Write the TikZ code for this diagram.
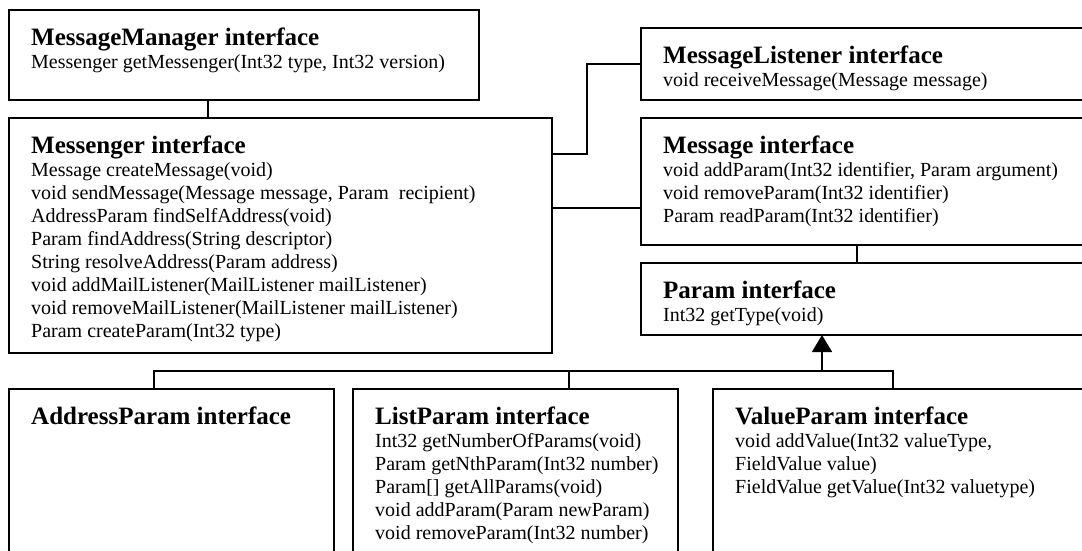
\documentclass[tikz,border=0pt]{standalone}
\usepackage{fontspec}
\setmainfont{Liberation Serif}
\usetikzlibrary{calc,arrows.meta}

\tikzset{
  ibox/.style={draw, line width=1.6pt, anchor=north west, inner sep=0pt, outer sep=0pt},
  ititle/.style={anchor=base west, inner sep=0pt, font=\fontsize{25}{28}\selectfont\bfseries},
  iline/.style={anchor=base west, inner sep=0pt, font=\fontsize{20}{23}\selectfont},
  link/.style={line width=1.6pt},
}

% box with its heading: name, x1, y1, x2, y2, heading
\newcommand\ifacebox[6]{%
  \node[ibox, minimum width={(#4-#2)*1pt}, minimum height={(#5-#3)*1pt}] (#1) at (#2,#3) {};
  \node[ititle] (#1-title) at ($(#1.north west)+(22,35)$) {#6};
}
% operation lines under the heading of a box
\newcommand\ifacelines[2]{%
  \foreach \ln [count=\k] in {#2} {
    \node[iline] (#1-l\k) at ($(#1.north west)+(22,{35+23*\k})$) {\ln};
  }
}

\begin{document}
\begin{tikzpicture}[x=1pt, y=-1pt]
  \useasboundingbox (0,0) rectangle (1082,550);
  \fill[white] (0,0) rectangle (1082,550);
  \clip (0,0) rectangle (1082,550);

  % left column
  \ifacebox{mm}{9}{10}{479}{100}{MessageManager interface}
  \ifacelines{mm}{{Messenger getMessenger(Int32 type, Int32 version)}}

  \ifacebox{msgr}{9}{118}{552}{353}{Messenger interface}
  \ifacelines{msgr}{{Message createMessage(void)},
    {void sendMessage(Message message, Param\ \ recipient)},
    {AddressParam findSelfAddress(void)},
    {Param findAddress(String descriptor)},
    {String resolveAddress(Param address)},
    {void addMailListener(MailListener mailListener)},
    {void removeMailListener(MailListener mailListener)},
    {Param createParam(Int32 type)}}

  % right column
  \ifacebox{ml}{641}{28}{1092}{100}{MessageListener interface}
  \ifacelines{ml}{{void receiveMessage(Message message)}}

  \ifacebox{msg}{641}{118}{1092}{245}{Message interface}
  \ifacelines{msg}{{void addParam(Int32 identifier, Param argument)},
    {void removeParam(Int32 identifier)},
    {Param readParam(Int32 identifier)}}

  \ifacebox{par}{641}{263}{1092}{335}{Param interface}
  \ifacelines{par}{{Int32 getType(void)}}

  % bottom row
  \ifacebox{ap}{9}{389}{334}{560}{AddressParam interface}

  \ifacebox{lp}{353}{389}{678}{560}{ListParam interface}
  \ifacelines{lp}{{Int32 getNumberOfParams(void)},
    {Param getNthParam(Int32 number)},
    {Param[] getAllParams(void)},
    {void addParam(Param newParam)},
    {void removeParam(Int32 number)}}

  \ifacebox{vp}{713}{389}{1092}{560}{ValueParam interface}
  \ifacelines{vp}{{void addValue(Int32 valueType,},
    {FieldValue value)},
    {FieldValue getValue(Int32 valuetype)}}

  % associations
  \draw[link] ($(mm.south west)+(199,0)$) -- ($(msgr.north west)+(199,0)$);
  \draw[link] ($(msgr.north east)+(0,36)$) -- ++(35,0) |- (ml.west);
  \draw[link] ($(msgr.north east)+(0,90)$) -- ($(msg.north west)+(0,90)$);
  \draw[link] ($(msg.south west)+(216,0)$) -- ($(par.north west)+(216,0)$);

  % inheritance from Param
  \draw[link] ($(ap.north west)+(145,0)$) -- ++(0,-18) -| ($(vp.north west)+(180,0)$);
  \draw[link] ($(lp.north west)+(216,0)$) -- ++(0,-18);
  \draw[link, -{Triangle[length=17pt, width=20pt]}]
    ($(vp.north west)+(109,-18)$) -- ($(par.south west)+(181,0)$);
\end{tikzpicture}
\end{document}
